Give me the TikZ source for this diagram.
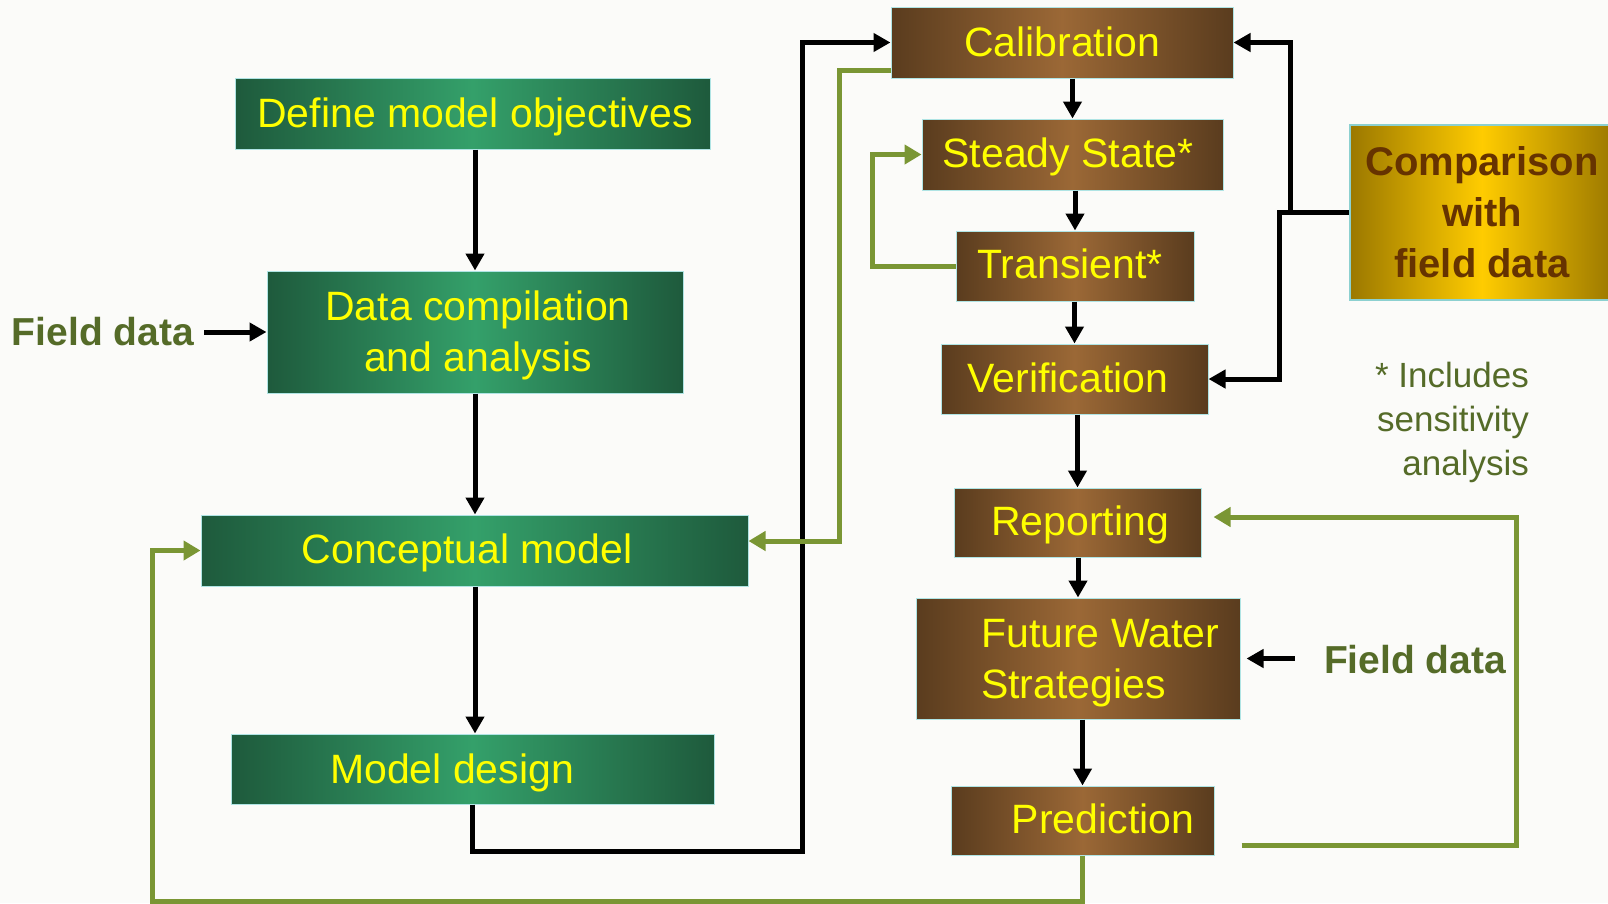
\documentclass[tikz,border=0pt]{standalone}
\usepackage{fontspec}
\setmainfont{Liberation Sans}
\usetikzlibrary{arrows.meta,calc}
\definecolor{gdark}{RGB}{30,90,60}
\definecolor{glight}{RGB}{52,160,106}
\definecolor{bdark}{RGB}{90,60,30}
\definecolor{blight}{RGB}{155,104,54}
\definecolor{odark}{RGB}{155,120,0}
\definecolor{olight}{RGB}{255,204,0}
\definecolor{txty}{RGB}{255,255,0}
\definecolor{olivetxt}{RGB}{85,107,40}
\definecolor{lgreen}{RGB}{122,150,52}
\definecolor{cmpbrown}{RGB}{102,51,0}
\definecolor{edgec}{RGB}{175,228,228}
\definecolor{bgc}{RGB}{251,251,249}
\tikzset{
  gbox/.style={draw=edgec, line width=1pt, left color=gdark, right color=gdark, middle color=glight, inner sep=0pt},
  bbox/.style={draw=edgec, line width=1pt, left color=bdark, right color=bdark, middle color=blight, inner sep=0pt},
  obox/.style={draw=edgec!80!teal, line width=2.5pt, left color=odark, right color=odark, middle color=olight, inner sep=0pt},
  lbl/.style={font=\fontsize{41}{51}\selectfont, text=txty, inner sep=0pt, anchor=base},
  fdtxt/.style={font=\bfseries\fontsize{39}{51}\selectfont, text=olivetxt, inner sep=0pt, anchor=base},
  blk/.style={draw=black, line width=5pt, -{Triangle[length=17pt,width=18pt]}},
  grn/.style={draw=lgreen, line width=5pt, -{Triangle[length=17pt,width=19pt]}},
}
\begin{document}
\begin{tikzpicture}[x=1pt,y=-1pt]
\useasboundingbox (0,0) rectangle (1608,903);
\fill[bgc] (0,0) rectangle (1608,903);
% left column
\node[gbox, minimum width=475pt, minimum height=71pt] (dmo) at (472.5,113.5) {};
\node[gbox, minimum width=416pt, minimum height=122pt] (dca) at (475,332) {};
\node[gbox, minimum width=547pt, minimum height=71pt] (cm) at (474.5,550.5) {};
\node[gbox, minimum width=483pt, minimum height=70pt] (md) at (472.5,769) {};
% right column
\node[bbox, minimum width=342pt, minimum height=71pt] (cal) at (1062,42.5) {};
\node[bbox, minimum width=301pt, minimum height=71pt] (ss) at (1072.5,154.5) {};
\node[bbox, minimum width=238pt, minimum height=70pt] (tr) at (1075,266) {};
\node[bbox, minimum width=267pt, minimum height=70pt] (ver) at (1074.5,379) {};
\node[bbox, minimum width=247pt, minimum height=69pt] (rep) at (1077.5,522.5) {};
\node[bbox, minimum width=324pt, minimum height=121pt] (fws) at (1078,658.5) {};
\node[bbox, minimum width=263pt, minimum height=69pt] (pred) at (1082.5,820.5) {};
\node[obox, minimum width=264pt, minimum height=175pt] (cmp) at (1482,212.5) {};
% texts
\node[lbl] (tdmo) at (475,127) {Define model objectives};
\node[lbl, align=center] (tdca) at (478,371) {Data compilation\\and analysis};
\node[lbl] (tcm) at (467,563) {Conceptual model};
\node[lbl] (tmd) at (452,783) {Model design};
\node[lbl] (tcal) at (1062,56) {Calibration};
\node[lbl] (tss) at (1068,167) {Steady State*};
\node[lbl] (ttr) at (1070,278) {Transient*};
\node[lbl] (tver) at (1068,392) {Verification};
\node[lbl] (trep) at (1080,535) {Reporting};
\node[lbl, align=left, anchor=base west] (tfws) at (981,698) {Future Water\\Strategies};
\node[lbl] (tpred) at (1103,833) {Prediction};
\node[fdtxt, text=cmpbrown, align=center, font=\bfseries\fontsize{40}{51}\selectfont] (tcmp) at (1482,277) {Comparison\\with\\field data};
\node[fdtxt] (fdl) at (103,345) {Field data};
\node[fdtxt] (fdr) at (1415,673) {Field data};
\node[inner sep=0pt, anchor=base east, align=right, text=olivetxt, font=\fontsize{35}{44}\selectfont] (note) at (1529,475) {* Includes\\sensitivity\\analysis};
% coordinates
\coordinate (mdc) at (802,851);
\coordinate (calg) at (839,70);
\coordinate (trloop) at (872,266);
\coordinate (jA) at (1290,212.5);
\coordinate (jB) at (1279,212.5);
\coordinate (prc) at (1516,517);
\coordinate (blc) at (152,901);
% black connectors
\draw[blk] (dmo.south -| dca.north) -- (dca.north);
\draw[blk] (dca.south) -- (dca.south |- cm.north);
\draw[blk] (cm.south -| dca.south) -- (md.north -| dca.south);
\draw[blk] ([xshift=10pt]fdl.east |- dca.west) -- (dca.west);
\draw[blk] (md.south) |- (mdc) |- (cal.west);
\draw[blk] (cal.south -| ss.north) -- (ss.north);
\draw[blk] (ss.south -| tr.north) -- (tr.north);
\draw[blk] (tr.south -| ver.north) -- (ver.north);
\draw[blk] (ver.south -| rep.north) -- (rep.north);
\draw[blk] (rep.south -| fws.north) -- (fws.north);
\draw[blk] (fws.south -| pred.north) -- (pred.north);
\draw[blk] (cmp.west) -- (jA) |- (cal.east);
\draw[blk] (cmp.west) -- (jB) |- (ver.east);
\draw[blk] ([xshift=-29pt]fdr.west |- fws.east) -- ([xshift=6pt]fws.east);
% green connectors
\draw[grn] ([yshift=-27.5pt]cal.west) -- (calg) |- ([yshift=9.5pt]cm.east);
\draw[grn] (tr.west) -- (trloop) |- (ss.west);
\draw[grn] ([xshift=27pt,yshift=-24.5pt]pred.east) -| (prc) -- ([xshift=12pt,yshift=5.5pt]rep.east);
\draw[grn] (pred.south) |- (blc) |- (cm.west);
\end{tikzpicture}
\end{document}
